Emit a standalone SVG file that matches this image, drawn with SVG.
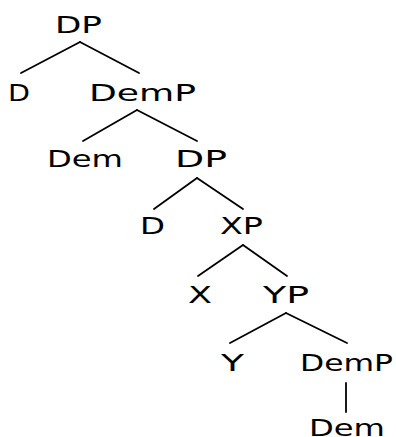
<svg xmlns="http://www.w3.org/2000/svg" width="396" height="437" viewBox="0 0 396 437">
<style>
text{font-family:"DejaVu Sans","Liberation Sans",Arial,sans-serif;font-size:23px;fill:#000}
.e line{stroke:#000;stroke-width:1.8;stroke-linecap:round}
</style>
<rect width="396" height="437" fill="#fff"/>
<g class="e" id="connectors">
<line x1="80" y1="42" x2="21" y2="73"/>
<line x1="80" y1="42" x2="139" y2="73"/>
<line x1="137" y1="110" x2="83" y2="141"/>
<line x1="137" y1="110" x2="197" y2="141"/>
<line x1="197" y1="178" x2="154" y2="209"/>
<line x1="197" y1="178" x2="243" y2="209"/>
<line x1="243" y1="245" x2="198" y2="276"/>
<line x1="243" y1="245" x2="287" y2="276"/>
<line x1="286" y1="313" x2="230" y2="343"/>
<line x1="286" y1="313" x2="347" y2="343"/>
<line x1="346" y1="383" x2="346" y2="412"/>
</g>
<g id="n1"><text x="55" y="33" textLength="47" lengthAdjust="spacingAndGlyphs">DP</text></g>
<g id="n2"><text x="8" y="101" textLength="22" lengthAdjust="spacingAndGlyphs">D</text></g>
<g id="n3"><text x="89" y="101" textLength="107" lengthAdjust="spacingAndGlyphs">DemP</text></g>
<g id="n4"><text x="47" y="167" textLength="76" lengthAdjust="spacingAndGlyphs">Dem</text></g>
<g id="n5"><text x="175" y="167" textLength="52" lengthAdjust="spacingAndGlyphs">DP</text></g>
<g id="n6"><text x="140" y="234" textLength="25" lengthAdjust="spacingAndGlyphs">D</text></g>
<g id="n7"><text x="220" y="234" textLength="43" lengthAdjust="spacingAndGlyphs">XP</text></g>
<g id="n8"><text x="188" y="303" textLength="24" lengthAdjust="spacingAndGlyphs">X</text></g>
<g id="n9"><text x="263" y="303" textLength="46" lengthAdjust="spacingAndGlyphs">YP</text></g>
<g id="n10"><text x="221" y="371" textLength="23" lengthAdjust="spacingAndGlyphs">Y</text></g>
<g id="n11"><text x="300" y="371" textLength="93" lengthAdjust="spacingAndGlyphs">DemP</text></g>
<g id="n12"><text x="309" y="436" textLength="76" lengthAdjust="spacingAndGlyphs">Dem</text></g>
</svg>
